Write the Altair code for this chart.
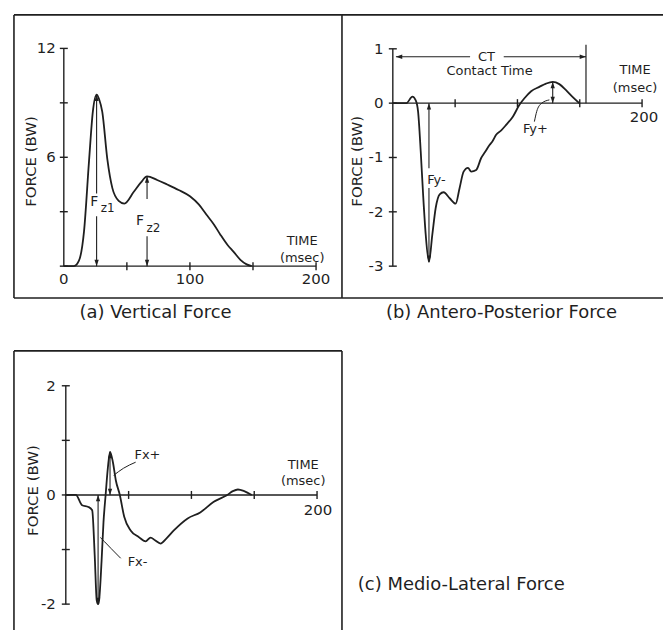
import altair as alt
import pandas as pd

FONT = "DejaVu Sans"
INK = "#1f1f1f"

# ---------------- force traces: time (msec) and force (BW) ----------------
a_time = [0, 8, 12, 16, 20, 23, 26, 28, 30.5, 34.5, 38.5, 43.5, 48, 55.5, 61, 66,
          74, 82, 91, 100, 107, 113, 119, 124, 130, 134.5, 140, 145, 149]
a_force = [0, 0, 0.3, 1.9, 5.8, 8.5, 9.45, 9.2, 8.5, 5.9, 4.3, 3.6, 3.45, 4.1, 4.6, 4.95,
           4.75, 4.5, 4.2, 3.85, 3.4, 2.85, 2.3, 1.75, 1.15, 0.8, 0.35, 0.1, 0]

b_time = [0, 10.9, 15.7, 18.4, 20.3, 22.4, 24.3, 26.4, 29, 31.7, 34.4, 37.6, 40.8, 45.6,
          50.4, 53.6, 56.8, 60.3, 62.9, 66.9, 70.9, 74, 77.6, 80, 82.9, 87, 90.9, 96.3,
          101.6, 105.6, 111, 117.6, 123, 128.3, 133.6, 139, 144, 149.6]
b_force = [0, 0, 0.12, 0.05, -0.16, -0.89, -1.68, -2.42, -2.92, -2.42, -1.93, -1.68, -1.64,
           -1.75, -1.85, -1.56, -1.26, -1.19, -1.26, -1.23, -1.01, -0.9, -0.77, -0.7, -0.58,
           -0.5, -0.4, -0.25, -0.03, 0.09, 0.22, 0.3, 0.36, 0.39, 0.35, 0.24, 0.12, 0]

c_time = [0, 8, 13, 18, 21, 23, 24.6, 25.7, 26.5, 28.5, 30, 31.7, 33.5, 35.2, 37.5, 39.8,
          43, 46.5, 51.6, 58, 63.5, 67.5, 71, 75.4, 80, 86, 97, 107, 117.5, 128.5, 133,
          137, 142, 148]
c_force = [0, 0, -0.19, -0.22, -0.28, -1.1, -1.93, -2.0, -1.93, -1.2, -0.5, 0, 0.5, 0.79,
           0.6, 0.27, 0, -0.4, -0.65, -0.77, -0.85, -0.78, -0.83, -0.89, -0.8, -0.65, -0.43,
           -0.32, -0.13, 0, 0.07, 0.1, 0.07, 0]

# ---------------- axes ----------------
time_ticks = [50, 100, 150, 200]
a_yticks = [0, 3, 6, 9, 12]
b_yticks = [-3, -2, -1, 0, 1]
c_yticks = [-2, -1, 0, 1, 2]
a_ylabels = ["6", "12"]
a_ylabel_vals = [6, 12]
b_ylabels = ["1", "0", "-1", "-2", "-3"]
b_ylabel_vals = [1, 0, -1, -2, -3]
c_ylabels = ["2", "0", "-2"]
c_ylabel_vals = [2, 0, -2]
a_xlabels = ["0", "100", "200"]
a_xlabel_vals = [0, 100, 200]
contact_end = 155

# plotting windows (data units) for each framed panel
a_xdom, a_ydom = [-39.53, 220.55], [-1.758, 13.846]
b_xdom, b_ydom = [-40.8, 216.8], [-3.587, 1.624]
c_xdom, c_ydom = [-41.27, 219.84], [-2.475, 2.639]

# arrowhead glyphs with the tip at the symbol origin
UP = "M0,0L-0.34,1L0.34,1Z"
DOWN = "M0,0L-0.34,-1L0.34,-1Z"
LEFT = "M0,0L1,-0.34L1,0.34Z"
RIGHT = "M0,0L-1,-0.34L-1,0.34Z"


def peak(times, forces, lo, hi, fn):
    pts = [(t, f) for t, f in zip(times, forces) if lo <= t <= hi]
    return fn(pts, key=lambda p: p[1])


def seg(x, y, x2, y2, w=1.4):
    return dict(x=x, y=y, x2=x2, y2=y2, w=w)


def frame(xd, yd, sides):
    out = []
    if "l" in sides:
        out.append(seg(xd[0], yd[0], xd[0], yd[1], 1.6))
    if "r" in sides:
        out.append(seg(xd[1], yd[0], xd[1], yd[1], 1.6))
    if "t" in sides:
        out.append(seg(xd[0], yd[1], xd[1], yd[1], 1.6))
    if "b" in sides:
        out.append(seg(xd[0], yd[0], xd[1], yd[0], 1.6))
    return out


def txt(t, v, label, size=14, align="center", angle=0):
    return dict(t=t, v=v, label=label, size=size, align=align, angle=angle)


def build_panel(xd, yd, w, h, times, forces, segs, yticks, heads, leaders, texts):
    sx = alt.Scale(domain=xd, nice=False, zero=False)
    sy = alt.Scale(domain=yd, nice=False, zero=False)

    def X(f):
        return alt.X(f"{f}:Q", scale=sx, axis=None)

    def Y(f):
        return alt.Y(f"{f}:Q", scale=sy, axis=None)

    layers = []
    layers.append(
        alt.Chart(pd.DataFrame(segs)).mark_rule(color=INK).encode(
            x=X("x"), y=Y("y"), x2=alt.X2("x2"), y2=alt.Y2("y2"),
            strokeWidth=alt.StrokeWidth("w:Q", scale=None)))
    layers.append(
        alt.Chart(pd.DataFrame({"x": time_ticks, "y": [0] * len(time_ticks)}))
        .mark_tick(orient="vertical", size=8, thickness=1.4, color=INK, opacity=1)
        .encode(x=X("x"), y=Y("y")))
    layers.append(
        alt.Chart(pd.DataFrame({"x": [0] * len(yticks), "y": yticks}))
        .mark_tick(orient="horizontal", size=8, thickness=1.4, color=INK, opacity=1)
        .encode(x=X("x"), y=Y("y")))
    layers.append(
        alt.Chart(pd.DataFrame({"t": times, "v": forces}))
        .mark_line(color=INK, strokeWidth=1.8, interpolate="monotone")
        .encode(x=X("t"), y=Y("v")))
    if leaders:
        layers.append(
            alt.Chart(pd.DataFrame(leaders))
            .mark_line(color=INK, strokeWidth=1.0, interpolate="monotone")
            .encode(x=X("t"), y=Y("v"), detail="id:N", order=alt.Order("k:Q")))
    layers.append(
        alt.Chart(pd.DataFrame(heads, columns=["t", "v", "s"]))
        .mark_point(filled=True, color=INK, opacity=1, size=160, strokeWidth=0)
        .encode(x=X("t"), y=Y("v"), shape=alt.Shape("s:N", scale=None)))
    tdf = pd.DataFrame(texts)
    for (size, align, angle), grp in tdf.groupby(["size", "align", "angle"]):
        layers.append(
            alt.Chart(grp.reset_index(drop=True))
            .mark_text(font=FONT, fontSize=int(size), align=align, angle=int(angle),
                       baseline="middle", color=INK)
            .encode(x=X("t"), y=Y("v"), text="label:N"))
    return alt.layer(*layers).properties(width=w, height=h)


# ---------------- (a) vertical force ----------------
t1, v1 = peak(a_time, a_force, 0, 40, max)
t2, v2 = peak(a_time, a_force, 50, 100, max)
segs_a = frame(a_xdom, a_ydom, "lrtb") + [
    seg(0, 0, 0, 12), seg(0, 0, 200, 0),
    seg(t1, v1, t1, 4.0, 1.1), seg(t1, 2.75, t1, 0, 1.1),
    seg(t2, v2, t2, 3.7, 1.1), seg(t2, 1.65, t2, 0, 1.1),
]
heads_a = [(t1, v1, UP), (t1, 0, DOWN), (t2, v2, UP), (t2, 0, DOWN)]
texts_a = (
    [txt(-6.3, v, s, 15, "right") for s, v in zip(a_ylabels, a_ylabel_vals)]
    + [txt(t, -0.71, s, 15) for s, t in zip(a_xlabels, a_xlabel_vals)]
    + [txt(189, 1.4, "TIME", 13), txt(189, 0.47, "(msec)", 13),
       txt(-26.1, 5.77, "FORCE (BW)", 15, "center", 270),
       txt(24.1, 3.52, "F", 14), txt(29.2, 3.19, "z1", 12, "left"),
       txt(60.5, 2.5, "F", 14), txt(65.6, 2.09, "z2", 12, "left"),
       txt(72.7, -2.58, "(a) Vertical Force", 18)]
)
panel_a = build_panel(a_xdom, a_ydom, 329, 284, a_time, a_force, segs_a, a_yticks,
                      heads_a, [], texts_a)

# ---------------- (b) antero-posterior force ----------------
tn, vn = peak(b_time, b_force, 0, 40, min)
tp, vp = peak(b_time, b_force, 100, 150, max)
segs_b = frame(b_xdom, b_ydom, "tb") + [
    seg(0, -3, 0, 1), seg(0, 0, 200, 0),
    seg(tn, 0, tn, -1.2, 1.1), seg(tn, -1.56, tn, vn, 1.1),
    seg(tp, 0, tp, vp, 1.1),
    seg(2.5, 0.854, 62, 0.854, 1.1), seg(89, 0.854, contact_end, 0.854, 1.1),
    seg(contact_end, 0, contact_end, 1.073, 1.2),
]
heads_b = [(tn, 0, UP), (tn, vn, DOWN), (tp, vp, UP), (tp, 0, DOWN),
           (2.5, 0.854, LEFT), (contact_end, 0.854, RIGHT)]
leaders_b = [dict(id="fy", k=i, t=t, v=v) for i, (t, v) in
             enumerate([(113.6, -0.34), (115.5, -0.15), (119, -0.01), (125.6, 0.06)])]
texts_b = (
    [txt(-7.5, v, s, 15, "right") for s, v in zip(b_ylabels, b_ylabel_vals)]
    + [txt(201.6, -0.25, "200", 15),
       txt(194.4, 0.61, "TIME", 13), txt(194.4, 0.27, "(msec)", 13),
       txt(-28.8, -1.07, "FORCE (BW)", 15, "center", 270),
       txt(75.2, 0.854, "CT", 13), txt(77.6, 0.596, "Contact Time", 13),
       txt(35, -1.41, "Fy-", 13), txt(114.4, -0.47, "Fy+", 13),
       txt(87.2, -3.86, "(b) Antero-Posterior Force", 18)]
)
panel_b = build_panel(b_xdom, b_ydom, 322, 284, b_time, b_force, segs_b, b_yticks,
                      heads_b, leaders_b, texts_b)

# ---------------- (c) medio-lateral force ----------------
tm, vm = peak(c_time, c_force, 0, 30, min)
tx, vx = peak(c_time, c_force, 30, 40, max)
segs_c = frame(c_xdom, c_ydom, "lrt") + [
    seg(0, -2, 0, 2), seg(0, 0, 200, 0),
    seg(tm, 0, tm, vm, 1.1), seg(tx, 0, tx, vx, 1.1),
]
heads_c = [(tm, 0, UP), (tm, vm, DOWN), (tx, vx, UP), (tx, 0, DOWN)]
leaders_c = (
    [dict(id="fxp", k=i, t=t, v=v) for i, (t, v) in
     enumerate([(55.6, 0.6), (46, 0.49), (38.1, 0.36)])]
    + [dict(id="fxm", k=i, t=t, v=v) for i, (t, v) in
       enumerate([(43.7, -1.16), (36, -0.98), (31, -0.86), (27.5, -0.78)])]
)
texts_c = (
    [txt(-7.9, v, s, 15, "right") for s, v in zip(c_ylabels, c_ylabel_vals)]
    + [txt(200.8, -0.28, "200", 15),
       txt(189, 0.55, "TIME", 13), txt(189, 0.25, "(msec)", 13),
       txt(-26.2, 0.08, "FORCE (BW)", 15, "center", 270),
       txt(65, 0.74, "Fx+", 13), txt(57.1, -1.23, "Fx-", 13),
       txt(232.5, -1.65, "(c) Medio-Lateral Force", 18, "left")]
)
panel_c = build_panel(c_xdom, c_ydom, 329, 280, c_time, c_force, segs_c, c_yticks,
                      heads_c, leaders_c, texts_c)

# 2-column grid: (a) (b) on the first row, (c) below (a)
chart = (
    alt.concat(panel_a, panel_b, panel_c, columns=2,
               spacing={"row": 53, "column": 0}, bounds="flush")
    .properties(padding={"left": 13, "top": 13, "right": 0, "bottom": 0})
    .configure_view(stroke=None)
)

chart.save("out.html", embed_options={"renderer": "svg", "actions": False})
